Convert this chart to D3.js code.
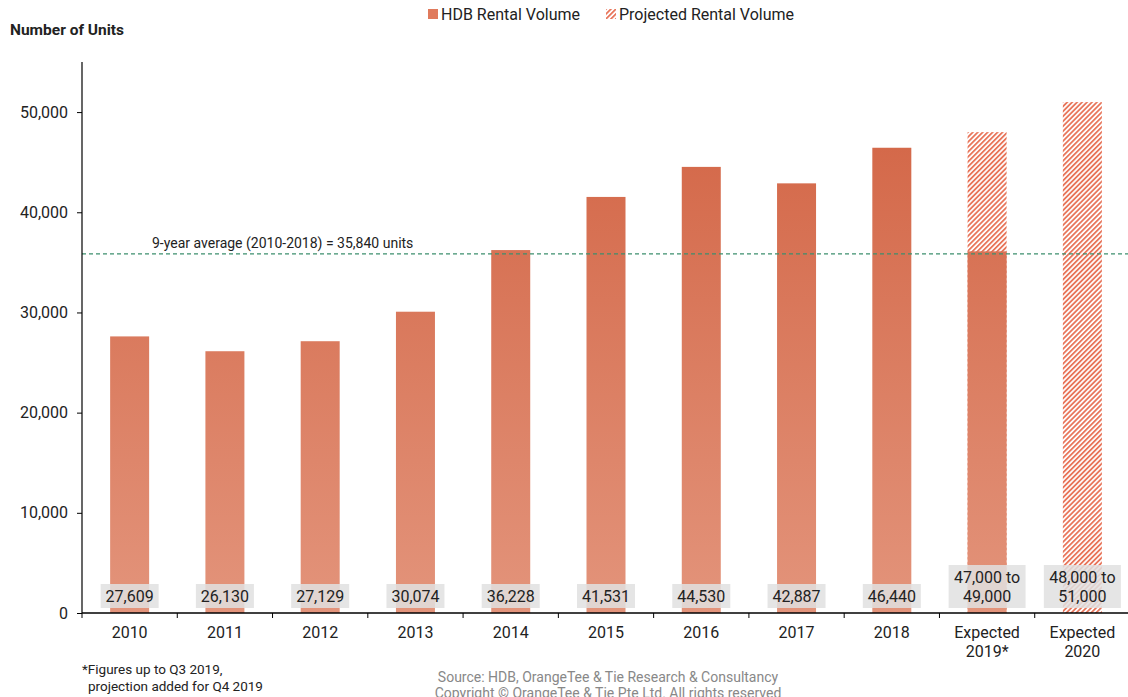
<!DOCTYPE html>
<html>
<head>
<meta charset="utf-8">
<script src="https://cdn.jsdelivr.net/npm/d3@7"></script>
<style>
  body { margin: 0; background: #fff; font-family: Roboto, "Noto Sans", sans-serif; }
  svg text { fill: #222; }
</style>
</head>
<body>
<svg id="chart" width="1128" height="697"></svg>
<script>
// categories and values
var categories = ["2010", "2011", "2012", "2013", "2014", "2015", "2016", "2017", "2018", "Expected\n2019*", "Expected\n2020"];
var actualValues = [27609, 26130, 27129, 30074, 36228, 41531, 44530, 42887, 46440, 36100, 0];
var projectedValues = [0, 0, 0, 0, 0, 0, 0, 0, 0, 48000, 51000];
var barLabels = ["27,609", "26,130", "27,129", "30,074", "36,228", "41,531", "44,530", "42,887", "46,440", "47,000 to\n49,000", "48,000 to\n51,000"];
var yTicks = [0, 10000, 20000, 30000, 40000, 50000];
var average = 35840;

var svg = d3.select("#chart");

var margin = { top: 62, left: 82, right: -2, bottom: 84 },
  width = 1128 - margin.left - margin.right,
  height = 697 - margin.top - margin.bottom;

var x = d3.scaleBand()
  .domain(categories)
  .range([margin.left, margin.left + width])
  .padding(0);

var y = d3.scaleLinear()
  .domain([0, 55000])
  .range([613, 62]);

var barW = 39;

var defs = svg.append("defs");
var grad = defs.append("linearGradient")
  .attr("id", "barGrad")
  .attr("gradientUnits", "userSpaceOnUse")
  .attr("x1", 0).attr("x2", 0)
  .attr("y1", y(46440)).attr("y2", y(0));
grad.append("stop").attr("offset", "0%").attr("stop-color", "#d4694a");
grad.append("stop").attr("offset", "100%").attr("stop-color", "#e3947b");

var hatch = defs.append("pattern")
  .attr("id", "hatch")
  .attr("patternUnits", "userSpaceOnUse")
  .attr("width", 3.5).attr("height", 3.5)
  .attr("patternTransform", "rotate(45)");
hatch.append("rect").attr("width", 3.5).attr("height", 3.5).attr("fill", "#fff");
hatch.append("rect").attr("width", 1.8).attr("height", 3.5).attr("fill", "#e8755a");

// projected (hatched) bars
svg.selectAll(".proj")
  .data(categories)
  .enter().append("rect")
  .attr("class", "proj")
  .filter(function (d, i) { return projectedValues[i] > 0; })
  .attr("x", function (d) { return x(d) + x.bandwidth() / 2 - barW / 2; })
  .attr("width", barW)
  .attr("y", function (d) { return y(projectedValues[categories.indexOf(d)]); })
  .attr("height", function (d) { return y(0) - y(projectedValues[categories.indexOf(d)]); })
  .attr("fill", "url(#hatch)");

// actual bars
svg.selectAll(".bar")
  .data(categories)
  .enter().append("rect")
  .attr("class", "bar")
  .attr("x", function (d) { return x(d) + x.bandwidth() / 2 - barW / 2; })
  .attr("width", barW)
  .attr("y", function (d, i) { return y(actualValues[i]); })
  .attr("height", function (d, i) { return y(0) - y(actualValues[i]); })
  .attr("fill", "url(#barGrad)");

// average line
svg.append("line")
  .attr("x1", margin.left).attr("x2", 1128)
  .attr("y1", y(average)).attr("y2", y(average))
  .attr("stroke", "#3d8f6e")
  .attr("stroke-width", 1.3)
  .attr("stroke-dasharray", "4,3");

svg.append("text")
  .attr("x", 152).attr("y", y(average) - 6)
  .style("font-size", "14px")
  .text("9-year average (2010-2018) = 35,840 units");

// value labels
var lab = svg.selectAll(".vlabel")
  .data(categories)
  .enter().append("g")
  .attr("class", "vlabel")
  .attr("transform", function (d) { return "translate(" + (x(d) + x.bandwidth() / 2) + ",0)"; });

lab.each(function (d, i) {
  var g = d3.select(this);
  var lines = barLabels[i].split("\n");
  var bw = lines.length > 1 ? 77 : 58;
  var bh = lines.length > 1 ? 43 : 24;
  g.append("rect")
    .attr("x", -bw / 2).attr("width", bw)
    .attr("y", 608 - bh).attr("height", bh)
    .attr("fill", "#e1e1e1")
    .attr("fill-opacity", 0.85);
  lines.forEach(function (t, k) {
    g.append("text")
      .attr("text-anchor", "middle")
      .attr("y", 608 - bh + 18 + k * 19)
      .style("font-size", "16px")
      .text(t);
  });
});

// axes
var xAxis = svg.append("g")
  .attr("transform", "translate(0," + y(0) + ")");
xAxis.append("line")
  .attr("x1", margin.left).attr("x2", 1128)
  .attr("stroke", "#000").attr("stroke-width", 1.5);
xAxis.selectAll(".xt")
  .data(categories)
  .enter().append("line")
  .attr("x1", function (d) { return x(d); })
  .attr("x2", function (d) { return x(d); })
  .attr("y1", 0).attr("y2", 5)
  .attr("stroke", "#000");
xAxis.selectAll(".xl")
  .data(categories)
  .enter().append("text")
  .attr("text-anchor", "middle")
  .style("font-size", "16px")
  .each(function (d) {
    var t = d3.select(this);
    d.split("\n").forEach(function (s, k) {
      t.append("tspan")
        .attr("x", x(d) + x.bandwidth() / 2)
        .attr("y", 25 + k * 19)
        .text(s);
    });
  });

var yAxis = svg.append("g")
  .attr("transform", "translate(" + margin.left + ",0)")
  .call(d3.axisLeft(y).tickValues(yTicks).tickSize(5).tickFormat(d3.format(",")));
yAxis.select(".domain").attr("stroke", "#000").attr("stroke-width", 1.2).attr("d", "M0," + y(0) + "V62");
yAxis.selectAll(".tick line").attr("stroke", "#000");
yAxis.selectAll(".tick text")
  .attr("x", -14)
  .style("font-size", "16px")
  .style("font-family", "Roboto, sans-serif")
  .attr("fill", "#222");

svg.append("text")
  .attr("x", 10).attr("y", 35)
  .style("font-size", "15.5px")
  .style("font-weight", "bold")
  .text("Number of Units");

// legend
svg.append("rect").attr("x", 428).attr("y", 9).attr("width", 10).attr("height", 10).attr("fill", "#e07a5c");
svg.append("text").attr("x", 441).attr("y", 20).style("font-size", "16px").text("HDB Rental Volume");
svg.append("rect").attr("x", 606).attr("y", 9).attr("width", 10).attr("height", 10).attr("fill", "url(#hatch)");
svg.append("text").attr("x", 619).attr("y", 20).style("font-size", "16px").text("Projected Rental Volume");

// notes
svg.append("text").attr("x", 82).attr("y", 674).style("font-size", "13.5px").text("*Figures up to Q3 2019,");
svg.append("text").attr("x", 88).attr("y", 691).style("font-size", "13.5px").text("projection added for Q4 2019");
svg.append("text").attr("x", 608).attr("y", 682).attr("text-anchor", "middle").style("font-size", "14px").style("fill", "#888").text("Source: HDB, OrangeTee & Tie Research & Consultancy");
svg.append("text").attr("x", 608).attr("y", 698).attr("text-anchor", "middle").style("font-size", "14px").style("fill", "#888").text("Copyright \u00a9 OrangeTee & Tie Pte Ltd. All rights reserved");
</script>
</body>
</html>
